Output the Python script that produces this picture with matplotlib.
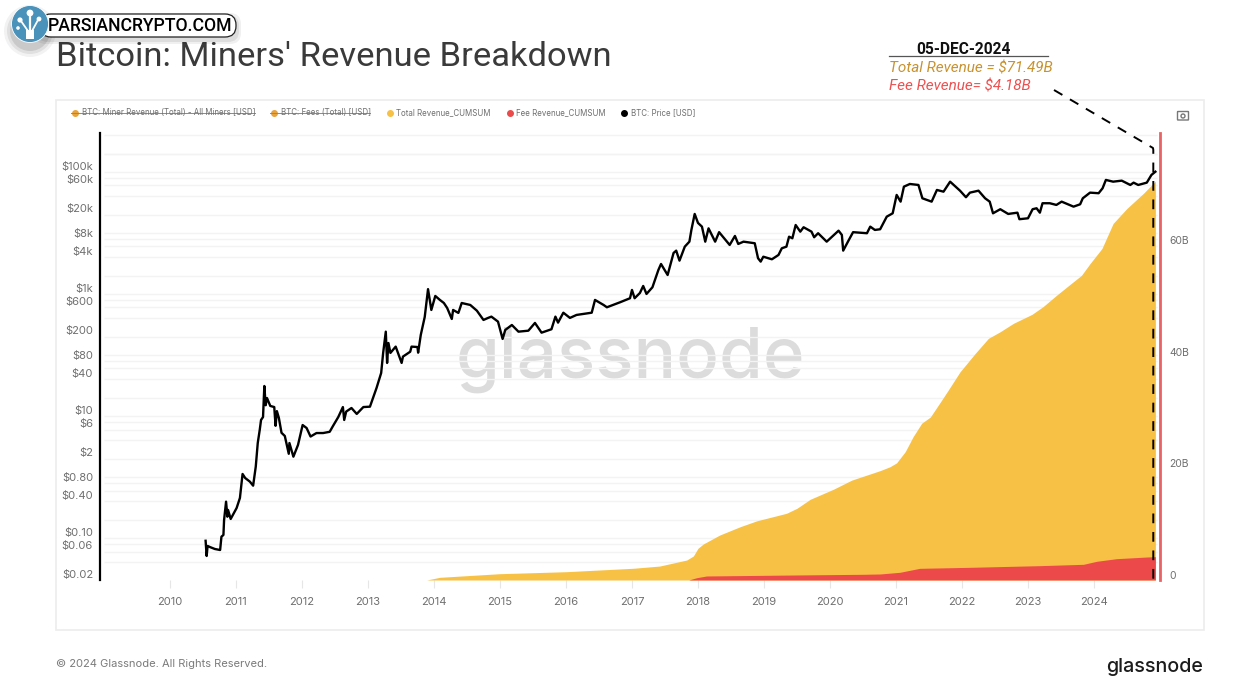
import matplotlib
matplotlib.use('Agg')
import matplotlib.pyplot as plt
from matplotlib.patches import Circle, FancyBboxPatch, Rectangle

plt.rcParams['font.family'] = ['Inter', 'DejaVu Sans']

# BTC price
price_year = [2010.54, 2010.556, 2010.57, 2010.606, 2010.68, 2010.76, 2010.78, 2010.81, 2010.82, 2010.85,
              2010.87, 2010.88, 2010.92, 2011.01, 2011.06, 2011.10, 2011.14, 2011.21, 2011.26, 2011.30,
              2011.33, 2011.36, 2011.38, 2011.41, 2011.43, 2011.45, 2011.47, 2011.52, 2011.58, 2011.60,
              2011.62, 2011.65, 2011.69, 2011.74, 2011.80, 2011.81, 2011.87, 2011.94, 2012.01, 2012.07,
              2012.13, 2012.22, 2012.32, 2012.42, 2012.47, 2012.55, 2012.62, 2012.64, 2012.67, 2012.75,
              2012.83, 2012.93, 2013.03, 2013.13, 2013.20, 2013.23, 2013.27, 2013.29, 2013.31, 2013.34,
              2013.42, 2013.51, 2013.53, 2013.64, 2013.66, 2013.75, 2013.76, 2013.80, 2013.86, 2013.91,
              2013.96, 2014.02, 2014.09, 2014.15, 2014.20, 2014.27, 2014.29, 2014.37, 2014.42, 2014.55,
              2014.65, 2014.75, 2014.82, 2014.87, 2014.97, 2015.04, 2015.08, 2015.18, 2015.28, 2015.43,
              2015.53, 2015.63, 2015.78, 2015.84, 2015.88, 2015.96, 2016.06, 2016.16, 2016.39, 2016.44,
              2016.57, 2016.62, 2016.82, 2016.97, 2017.00, 2017.04, 2017.12, 2017.17, 2017.22, 2017.31,
              2017.40, 2017.44, 2017.54, 2017.63, 2017.67, 2017.72, 2017.80, 2017.87, 2017.90, 2017.95,
              2018.00, 2018.06, 2018.11, 2018.16, 2018.26, 2018.32, 2018.48, 2018.56, 2018.61, 2018.69,
              2018.86, 2018.91, 2018.95, 2018.99, 2019.12, 2019.22, 2019.27, 2019.34, 2019.38, 2019.43,
              2019.48, 2019.55, 2019.60, 2019.72, 2019.76, 2019.82, 2019.95, 2020.13, 2020.18, 2020.20,
              2020.28, 2020.35, 2020.56, 2020.61, 2020.68, 2020.76, 2020.86, 2020.95, 2021.01, 2021.07,
              2021.12, 2021.21, 2021.34, 2021.40, 2021.54, 2021.62, 2021.72, 2021.82, 2021.97, 2022.06,
              2022.12, 2022.25, 2022.35, 2022.42, 2022.47, 2022.58, 2022.70, 2022.84, 2022.87, 2023.00,
              2023.07, 2023.13, 2023.18, 2023.22, 2023.33, 2023.43, 2023.51, 2023.69, 2023.79, 2023.83,
              2023.94, 2024.07, 2024.13, 2024.18, 2024.29, 2024.42, 2024.55, 2024.60, 2024.67, 2024.80,
              2024.87, 2024.93]
price_usd = [0.090, 0.0507, 0.074, 0.071, 0.066, 0.0635, 0.105, 0.112, 0.197, 0.394,
             0.223, 0.288, 0.205, 0.310, 0.453, 1.12, 0.96, 0.84, 0.72, 1.48,
             3.6, 5.9, 8.6, 9.6, 31, 15, 19.7, 14.6, 14, 6.9,
             12, 9.3, 5.3, 4.7, 2.4, 3.6, 2.15, 3.35, 7.1, 6.35,
             4.6, 5.25, 5.25, 5.5, 6.85, 9.6, 14, 8.6, 11.8, 13.5,
             10.8, 14, 14.2, 28.8, 50.7, 108, 241, 74, 157, 108,
             137, 74, 94, 113, 137, 135, 109, 213, 420, 1200,
             547, 927, 798, 711, 589, 389, 547, 489, 711, 660,
             532, 375, 405, 425, 352, 183, 257, 310, 241, 250,
             335, 232, 264, 425, 339, 493, 405, 453, 493, 798,
             660, 605, 731, 851, 1164, 851, 1038, 1352, 1000, 1288,
             2473, 3100, 2046, 4700, 5130, 3516, 5960, 7200, 11200, 20500,
             14600, 12700, 7200, 11900, 7200, 10300, 6360, 8930, 6600, 7200,
             6780, 3850, 3390, 4080, 3700, 4360, 5610, 5960, 8690, 8180,
             13500, 10500, 12400, 10500, 8500, 9900, 7200, 10900, 9270, 5130,
             7480, 10300, 9900, 12700, 11200, 11500, 18500, 21000, 42000, 32600,
             57400, 63500, 61200, 37000, 32600, 50700, 47500, 69300, 49300, 38500,
             45800, 49300, 37000, 32600, 21000, 24500, 20500, 21500, 16800, 17400,
             24500, 25400, 21500, 30700, 30700, 28800, 32600, 27000, 29500, 37000,
             45800, 44800, 54000, 74000, 69300, 72000, 61200, 66800, 61200, 66800,
             89300, 101000]

# cumulative revenue in billions of USD
total_year = [2013.89, 2014.09, 2015.0, 2016.01, 2017.02, 2017.42, 2017.83, 2017.93, 2018.0, 2018.08,
              2018.33, 2018.64, 2018.89, 2019.34, 2019.5, 2019.7, 2020.05, 2020.33, 2020.76, 2020.91,
              2021.01, 2021.14, 2021.26, 2021.39, 2021.52, 2021.69, 2021.79, 2021.97, 2022.2, 2022.4,
              2022.58, 2022.78, 2023.06, 2023.23, 2023.43, 2023.64, 2023.81, 2023.94, 2024.12, 2024.29,
              2024.5, 2024.75, 2024.93]
total_rev = [0, 0.48, 1.13, 1.49, 2.1, 2.5, 3.58, 4.3, 5.68, 6.45,
             8.06, 9.55, 10.6, 11.95, 12.85, 14.46, 16.25, 17.9, 19.6, 20.3,
             21.0, 23.0, 25.7, 28.1, 29.2, 32.2, 34.0, 37.3, 40.6, 43.3,
             44.5, 46.0, 47.6, 49.0, 51.0, 53.0, 54.6, 56.7, 59.4, 63.9,
             66.6, 69.3, 71.49]
fee_year = [2017.86, 2017.98, 2018.13, 2019.5, 2020.5, 2020.76, 2021.06, 2021.36, 2022.12, 2023.18,
            2023.84, 2024.04, 2024.34, 2024.8, 2024.93]
fee_rev = [0, 0.41, 0.72, 0.9, 1.02, 1.08, 1.38, 2.09, 2.27, 2.57,
           2.81, 3.35, 3.82, 4.12, 4.18]

years = list(range(2010, 2025))
price_ticks = [0.02, 0.06, 0.10, 0.40, 0.80, 2, 6, 10, 40, 80, 200, 600, 1000, 4000, 8000, 20000, 60000, 100000]
price_labels = ['$0.02', '$0.06', '$0.10', '$0.40', '$0.80', '$2', '$6', '$10', '$40', '$80',
                '$200', '$600', '$1k', '$4k', '$8k', '$20k', '$60k', '$100k']
grid_prices = [m * 10 ** e for e in range(-2, 6) for m in (2, 4, 6, 8, 10)]
rev_ticks = [0, 20, 40, 60]
rev_labels = ['0', '20B', '40B', '60B']
legend_names = ['BTC: Miner Revenue (Total) - All Miners [USD]', 'BTC: Fees (Total) [USD]', 'Total Revenue_CUMSUM',
                'Fee Revenue_CUMSUM', 'BTC: Price [USD]']

YELLOW = '#F7C145'
RED = '#EC4A4A'
GREY = '#6f6f6f'
W, H = 1246, 700

fig = plt.figure(figsize=(12.46, 7), dpi=100)


def overlay(z):
    a = fig.add_axes([0, 0, 1, 1], zorder=z)
    a.set_xlim(0, W)
    a.set_ylim(H, 0)
    a.axis('off')
    return a


back = overlay(0)
front = overlay(5)

pos = [100 / W, 1 - 580 / H, 1060 / W, 447 / H]
xlim = (2008.94, 2025.0)
price_lim = (0.02047, 435000)
rev_lim = (0, 447 / 5.58)

# grid sits under the fills, price line above them
ax_grid = fig.add_axes(pos, zorder=1)
ax_grid.set_yscale('log')
ax_grid.set_xlim(xlim)
ax_grid.set_ylim(price_lim)
ax_grid.patch.set_alpha(0)
ax_grid.hlines(grid_prices + [200000], 2009.0, 2024.96, color='#f3f3f3', lw=1)
ax_grid.set_xticks(years)
ax_grid.set_xticklabels(years, fontsize=8, color=GREY)
ax_grid.tick_params(axis='x', length=6, width=0.8, color='#e6e6e6', pad=6)
ax_grid.minorticks_off()
ax_grid.set_yticks([])
for s in ax_grid.spines.values():
    s.set_visible(False)
for v, lab in zip(price_ticks, price_labels):
    ax_grid.annotate(lab, xy=(0, v), xycoords=('axes fraction', 'data'), xytext=(-5, 3.7),
                     textcoords='offset points', ha='right', va='center', fontsize=8, color=GREY)

ax_rev = fig.add_axes(pos, zorder=2)
ax_rev.patch.set_alpha(0)
ax_rev.set_xlim(xlim)
ax_rev.set_ylim(rev_lim)
ax_rev.fill_between(total_year, total_rev, color=YELLOW, lw=0)
ax_rev.fill_between(fee_year, fee_rev, color=RED, lw=0)
ax_rev.set_xticks([])
ax_rev.set_yticks([])
for s in ax_rev.spines.values():
    s.set_visible(False)
ax_rev.spines['left'].set_visible(True)
ax_rev.spines['left'].set_linewidth(1.6)
ax_rev.spines['right'].set_visible(True)
ax_rev.spines['right'].set_linewidth(2)
ax_rev.spines['right'].set_color('#E86464')
for v, lab in zip(rev_ticks, rev_labels):
    ax_rev.annotate(lab, xy=(1, v), xycoords=('axes fraction', 'data'), xytext=(6.5, 3),
                    textcoords='offset points', ha='left', va='center', fontsize=7.5, color=GREY)

ax_price = fig.add_axes(pos, zorder=3)
ax_price.patch.set_alpha(0)
ax_price.set_yscale('log')
ax_price.set_xlim(xlim)
ax_price.set_ylim(price_lim)
ax_price.plot(price_year, price_usd, color='black', lw=1.7, solid_joinstyle='round')
ax_price.axis('off')

# card, watermark, footer
back.add_patch(Rectangle((56, 100), 1148, 530, fc='white', ec='#ececec', lw=1.2))
back.text(630, 378, 'glassnode', fontsize=51, color='#dcdcdc', ha='center', va='baseline', fontweight='medium')
back.text(56, 57.5, "Bitcoin: Miners' Revenue Breakdown", fontsize=24.8, color='#3a3a3a', va='center', family='Roboto')
back.text(56, 664, '© 2024 Glassnode. All Rights Reserved.', fontsize=8, color='#7a7a7a', va='center')
back.text(1154.5, 672, 'glassnode', fontsize=14.2, color='#1c1c1c', ha='center', va='baseline', fontweight='medium')

# legend row
legend_mx = [75, 274, 390, 510, 624]
legend_tx = [82, 281, 396, 516, 631]
legend_end = [255, 370, 490, 606, 695]
legend_col = ['#E8A33D', '#E8A33D', YELLOW, RED, 'black']
for i, name in enumerate(legend_names):
    back.plot(legend_mx[i], 113, 'o', ms=4, color=legend_col[i])
    back.text(legend_tx[i], 113, name, fontsize=5.7, color=GREY, va='center')
    if i < 2:
        back.plot([legend_mx[i] - 4, legend_end[i]], [113, 113], color='#8a8a8a', lw=0.7)

# camera icon
back.add_patch(FancyBboxPatch((1178, 112), 10, 7.5, boxstyle='round,pad=0.5', fc='none', ec='#777777', lw=1))
back.add_patch(Circle((1183, 116), 2, fc='none', ec='#777777', lw=1))

# date callout
front.text(963, 49, '05-DEC-2024', fontsize=11.2, fontweight='bold', color='#111111', ha='center', va='center', family='Roboto')
front.plot([889, 1048], [56, 56], color='#555555', lw=0.9)
front.text(889, 68, 'Total Revenue = $71.49B', fontsize=10.95, style='italic', color='#C8922E', va='center', family='Roboto')
front.text(889, 86, 'Fee Revenue= $4.18B', fontsize=10.95, style='italic', color='#EE5050', va='center', family='Roboto')
front.plot([1054, 1153, 1153.3, 1153.3], [90, 148, 150, 580], color='black', lw=1.4, ls=(0, (5, 4.5)))

# badge top left
for r, al in ((26, 0.05), (23, 0.07), (20, 0.1)):
    front.add_patch(Circle((30, 31), r, fc='black', alpha=al, lw=0))
for pad, al in ((5, 0.06), (3, 0.08)):
    front.add_patch(FancyBboxPatch((40, 18), 196, 21, boxstyle='round,pad=%d,rounding_size=11' % pad, fc='black', alpha=al, lw=0))
front.add_patch(FancyBboxPatch((40, 14), 196, 23, boxstyle='round,pad=0,rounding_size=11', fc='white', ec='#222222', lw=0.9))
front.text(48, 26, 'PARSIANCRYPTO.COM', fontsize=12.7, color='black', va='center', family='Roboto', fontweight='medium')
front.add_patch(Circle((30, 24), 18.5, fc='#4A92BA', ec='white', lw=0.6))
for cx, cy, r in ((30, 13, 3.4), (20, 20, 2.6), (39, 19, 2.4), (18, 28, 1.8)):
    front.add_patch(Circle((cx, cy), r, fc='white', lw=0))
front.add_patch(Rectangle((26, 30), 8, 9, fc='white', lw=0))
front.plot([30, 30], [15, 31], color='white', lw=1.6)
front.plot([21, 28], [21, 31], color='white', lw=1.3)
front.plot([38, 32], [20, 31], color='white', lw=1.3)

fig.savefig('out.png', dpi=100)
